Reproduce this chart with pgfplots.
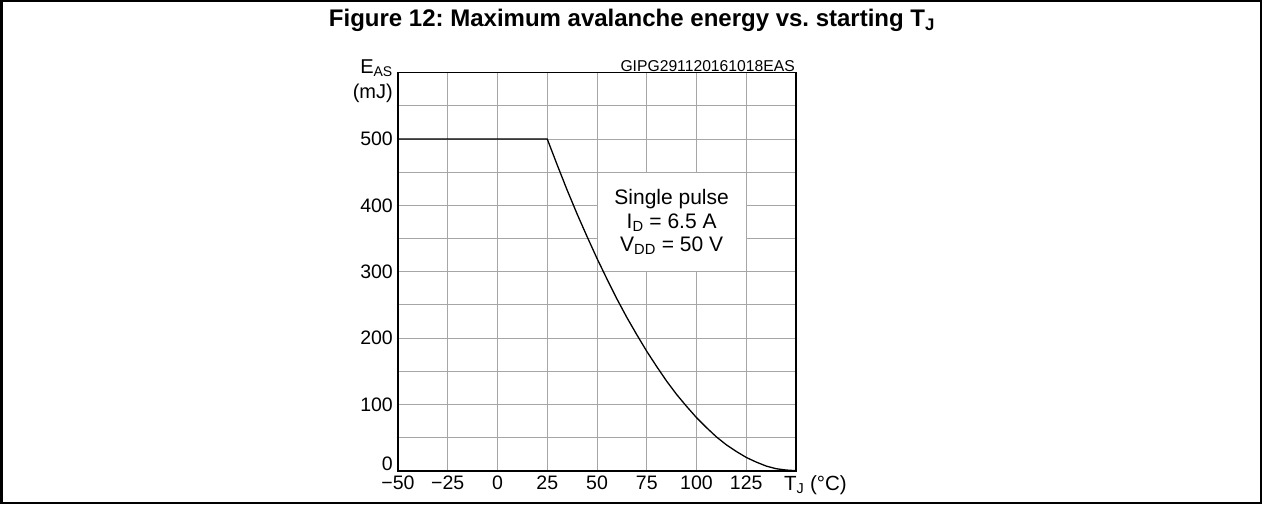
\documentclass[border=0pt]{standalone}
\usepackage{pgfplots}
\pgfplotsset{compat=1.18}
\usepackage{fontspec}
\setmainfont{Liberation Sans}
\frenchspacing
\begin{document}
\begin{tikzpicture}[x=1pt,y=1pt]
\useasboundingbox (0,0) rectangle (1262,504);
\draw[line width=2.5pt] (1.25,1.25) rectangle (1260.75,502.75);
\node[font=\bfseries\fontsize{24}{28}\selectfont, anchor=base, inner sep=0pt] at (632,477.5) {\frenchspacing Figure 12: Maximum avalanche energy vs. starting T\textsubscript{J}};
\begin{axis}[
  at={(398pt,33.3pt)}, anchor=south west,
  scale only axis, width=398pt, height=398pt,
  xmin=-50, xmax=150, ymin=0, ymax=600,
  xtick={-50,-25,...,150},
  xticklabels={−50,−25,0,25,50,75,100,125,{}},
  ytick={0,50,...,600},
  yticklabels={{},{},100,{},200,{},300,{},400,{},500,{},{}},
  grid=major,
  major grid style={black!35, line width=1pt},
  major tick length=0pt,
  axis line style={black, line width=1.6pt},
  tick label style={font=\fontsize{19.5}{23}\selectfont},
  xticklabel style={inner sep=0pt, anchor=north, yshift=-5pt},
  yticklabel style={inner sep=0pt, anchor=east, xshift=-5pt},
  clip=false,
]
\filldraw[fill=white, draw=black!35, line width=1pt] (axis cs:50,300) rectangle (axis cs:125,450);
\node[align=center, font=\fontsize{21}{23.3}\selectfont, anchor=center, inner sep=0pt] at (axis cs:87.5,375) {Single pulse\\I\textsubscript{D} = 6.5 A\\V\textsubscript{DD} = 50 V};
\addplot[black, line width=1.3pt] coordinates {
(-50,500)(25,500)(30,461)(35,423)(40,387)(45,353)(50,320)(55,289)(60,259)(65,231)(70,205)(75,180)(80,157)(85,135)(90,115)(95,97)(100,80)(105,65)(110,51)(115,39)(120,29)(125,20)(130,13)(135,7)(140,3)(145,1)(150,0)
};
\node[anchor=base east, inner sep=0pt, xshift=-5pt, font=\fontsize{19.5}{23}\selectfont] at (axis cs:-50,0) {0};
\end{axis}
\node[anchor=base east, inner sep=0pt, font=\fontsize{20}{24}\selectfont] at (393,430.7) {E\textsubscript{AS}};
\node[anchor=base east, inner sep=0pt, font=\fontsize{20}{24}\selectfont] at (393,405) {(mJ)};
\node[anchor=base east, inner sep=0pt, font=\fontsize{15.7}{18}\selectfont] at (795,432.6) {GIPG291120161018EAS};
\node[anchor=base west, inner sep=0pt, font=\fontsize{20.5}{24}\selectfont] at (784,14) {T\textsubscript{J} (°C)};
\end{tikzpicture}
\end{document}
